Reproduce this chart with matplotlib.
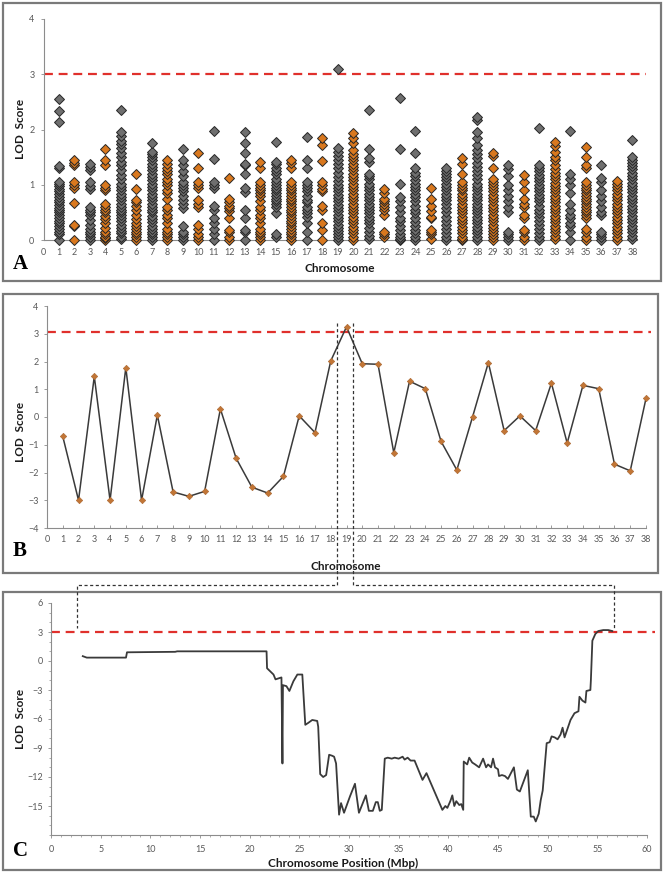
import matplotlib
matplotlib.use("Agg")
import matplotlib.pyplot as plt
import matplotlib.ticker as mt
from matplotlib.patches import Rectangle
from matplotlib.lines import Line2D

# ---------------- data ----------------
# Panel A: LOD score of each marker per chromosome
chromosomes = list(range(1, 39))
orange_chroms = [2, 4, 6, 8, 10, 12, 14, 16, 18, 20, 22, 25, 27, 29, 31, 33, 35, 37]
a_lod = [
    [2.55, 2.33, 2.14, 1.34, 1.30, 1.05, 1.01, 0.97, 0.93, 0.88, 0.83, 0.78, 0.73, 0.68, 0.63, 0.58, 0.54, 0.50, 0.45, 0.40, 0.35, 0.30, 0.25, 0.20, 0.15, 0.10, 0.0],
    [1.45, 1.40, 1.35, 1.05, 1.00, 0.95, 0.67, 0.28, 0.25, 0.0],
    [1.38, 1.33, 1.27, 1.05, 0.98, 0.93, 0.60, 0.55, 0.50, 0.45, 0.36, 0.28, 0.20, 0.15, 0.10, 0.05, 0.0],
    [1.64, 1.45, 1.35, 1.00, 0.95, 0.90, 0.65, 0.60, 0.55, 0.50, 0.44, 0.38, 0.30, 0.22, 0.15, 0.10, 0.06, 0.03, 0.0],
    [2.36, 1.96, 1.88, 1.80, 1.74, 1.66, 1.58, 1.50, 1.42, 1.35, 1.27, 1.18, 1.10, 1.02, 0.96, 0.90, 0.84, 0.78, 0.72, 0.66, 0.60, 0.55, 0.50, 0.45, 0.40, 0.34, 0.28, 0.22, 0.17, 0.12, 0.06, 0.02],
    [1.20, 0.92, 0.72, 0.68, 0.62, 0.55, 0.45, 0.38, 0.30, 0.25, 0.20, 0.15, 0.10, 0.05, 0.0],
    [1.75, 1.60, 1.55, 1.50, 1.44, 1.38, 1.32, 1.26, 1.20, 1.14, 1.08, 1.02, 0.96, 0.90, 0.84, 0.78, 0.72, 0.66, 0.60, 0.55, 0.50, 0.44, 0.38, 0.32, 0.26, 0.20, 0.15, 0.10, 0.05, 0.0],
    [1.45, 1.38, 1.30, 1.25, 1.20, 1.10, 1.05, 1.00, 0.90, 0.85, 0.75, 0.60, 0.55, 0.45, 0.40, 0.30, 0.20, 0.15, 0.10, 0.05, 0.0],
    [1.65, 1.45, 1.35, 1.25, 1.15, 1.05, 1.00, 0.95, 0.88, 0.80, 0.72, 0.65, 0.58, 0.25, 0.15, 0.10, 0.05, 0.0],
    [1.58, 1.30, 1.05, 1.00, 0.95, 0.72, 0.65, 0.60, 0.28, 0.20, 0.10, 0.05, 0.0],
    [1.98, 1.46, 1.05, 1.00, 0.95, 0.62, 0.55, 0.40, 0.30, 0.20, 0.10, 0.0],
    [1.12, 0.75, 0.68, 0.62, 0.58, 0.52, 0.40, 0.18, 0.15, 0.05, 0.0],
    [1.96, 1.76, 1.58, 1.38, 1.35, 1.20, 0.95, 0.87, 0.55, 0.40, 0.18, 0.15, 0.0],
    [1.42, 1.30, 1.05, 1.00, 0.95, 0.90, 0.85, 0.80, 0.70, 0.60, 0.55, 0.45, 0.40, 0.30, 0.20, 0.15, 0.10, 0.05, 0.0],
    [1.77, 1.42, 1.38, 1.30, 1.25, 1.20, 1.10, 1.05, 1.00, 0.95, 0.90, 0.85, 0.80, 0.75, 0.70, 0.65, 0.60, 0.48, 0.10, 0.05],
    [1.45, 1.40, 1.30, 1.05, 1.00, 0.95, 0.90, 0.85, 0.80, 0.75, 0.70, 0.65, 0.60, 0.55, 0.50, 0.45, 0.40, 0.35, 0.30, 0.25, 0.20, 0.15, 0.10, 0.05, 0.0],
    [1.87, 1.45, 1.30, 1.05, 1.00, 0.95, 0.88, 0.80, 0.72, 0.68, 0.60, 0.55, 0.48, 0.42, 0.30, 0.15, 0.0],
    [1.84, 1.72, 1.43, 1.05, 1.00, 0.93, 0.88, 0.62, 0.55, 0.30, 0.18, 0.0],
    [3.09, 1.66, 1.60, 1.52, 1.45, 1.38, 1.30, 1.22, 1.14, 1.06, 1.00, 0.94, 0.88, 0.82, 0.76, 0.70, 0.64, 0.58, 0.52, 0.46, 0.40, 0.34, 0.28, 0.22, 0.16, 0.10, 0.05, 0.0],
    [1.93, 1.85, 1.75, 1.62, 1.56, 1.50, 1.44, 1.38, 1.32, 1.26, 1.20, 1.14, 1.08, 1.02, 0.96, 0.90, 0.84, 0.78, 0.72, 0.66, 0.60, 0.54, 0.48, 0.42, 0.36, 0.30, 0.24, 0.18, 0.12, 0.06, 0.0],
    [2.36, 1.65, 1.48, 1.42, 1.20, 1.15, 1.10, 1.02, 0.96, 0.90, 0.84, 0.78, 0.72, 0.66, 0.60, 0.54, 0.48, 0.42, 0.36, 0.30, 0.22, 0.15, 0.08, 0.02],
    [0.93, 0.85, 0.75, 0.70, 0.65, 0.60, 0.55, 0.45, 0.15, 0.10, 0.05],
    [2.57, 1.65, 1.02, 0.78, 0.70, 0.60, 0.50, 0.40, 0.35, 0.25, 0.18, 0.10, 0.05, 0.02, 0.0],
    [1.98, 1.58, 1.30, 1.22, 1.15, 1.08, 1.02, 0.96, 0.90, 0.84, 0.78, 0.70, 0.62, 0.55, 0.48, 0.40, 0.32, 0.25, 0.18, 0.12, 0.06, 0.0],
    [0.95, 0.75, 0.62, 0.52, 0.42, 0.40, 0.18, 0.15, 0.10, 0.02],
    [1.30, 1.25, 1.20, 1.14, 1.08, 1.02, 0.96, 0.90, 0.84, 0.78, 0.72, 0.66, 0.58, 0.50, 0.42, 0.35, 0.28, 0.20, 0.12, 0.05, 0.0],
    [1.48, 1.38, 1.20, 1.05, 1.00, 0.95, 0.90, 0.84, 0.78, 0.72, 0.66, 0.60, 0.54, 0.48, 0.42, 0.36, 0.30, 0.24, 0.18, 0.12, 0.06, 0.02, 0.0],
    [2.22, 2.18, 1.95, 1.85, 1.72, 1.62, 1.55, 1.48, 1.40, 1.32, 1.25, 1.18, 1.10, 1.02, 0.96, 0.90, 0.84, 0.78, 0.72, 0.66, 0.60, 0.54, 0.48, 0.42, 0.36, 0.30, 0.24, 0.18, 0.12, 0.06, 0.0],
    [1.57, 1.52, 1.30, 1.10, 1.05, 1.00, 0.94, 0.88, 0.82, 0.76, 0.70, 0.64, 0.58, 0.52, 0.46, 0.40, 0.34, 0.28, 0.22, 0.16, 0.10, 0.05, 0.0],
    [1.35, 1.28, 1.15, 1.00, 0.90, 0.80, 0.70, 0.60, 0.50, 0.15, 0.10, 0.05, 0.0],
    [1.17, 1.05, 0.90, 0.75, 0.65, 0.60, 0.45, 0.40, 0.18, 0.15, 0.05, 0.0],
    [2.02, 1.35, 1.30, 1.24, 1.18, 1.12, 1.06, 1.00, 0.94, 0.88, 0.82, 0.76, 0.70, 0.62, 0.55, 0.48, 0.42, 0.35, 0.28, 0.20, 0.12, 0.05, 0.0],
    [1.77, 1.70, 1.60, 1.50, 1.45, 1.35, 1.28, 1.22, 1.16, 1.10, 1.04, 0.98, 0.92, 0.86, 0.80, 0.74, 0.68, 0.62, 0.56, 0.50, 0.44, 0.38, 0.32, 0.26, 0.20, 0.14, 0.08, 0.02],
    [1.98, 1.20, 1.10, 1.00, 0.85, 0.65, 0.55, 0.45, 0.40, 0.30, 0.25, 0.15, 0.0],
    [1.68, 1.50, 1.35, 1.30, 1.05, 1.00, 0.95, 0.90, 0.85, 0.80, 0.75, 0.70, 0.65, 0.60, 0.55, 0.50, 0.45, 0.40, 0.20, 0.15, 0.05, 0.0],
    [1.36, 1.12, 1.05, 0.90, 0.80, 0.70, 0.60, 0.50, 0.45, 0.15, 0.10, 0.05, 0.0],
    [1.07, 1.02, 0.96, 0.90, 0.84, 0.78, 0.72, 0.66, 0.60, 0.54, 0.48, 0.42, 0.36, 0.30, 0.24, 0.18, 0.12, 0.06, 0.0],
    [1.81, 1.50, 1.45, 1.40, 1.34, 1.28, 1.22, 1.16, 1.10, 1.04, 0.98, 0.92, 0.86, 0.80, 0.74, 0.68, 0.62, 0.56, 0.50, 0.44, 0.38, 0.32, 0.26, 0.20, 0.14, 0.08, 0.02],
]
a_threshold = 3.0

# Panel B: one LOD score per chromosome
b_lod = [-0.70, -3.00, 1.46, -3.00, 1.78, -3.00, 0.07, -2.70, -2.86, -2.68,
         0.29, -1.49, -2.53, -2.74, -2.14, 0.04, -0.56, 2.02, 3.25, 1.92,
         1.90, -1.29, 1.29, 1.02, -0.88, -1.91, 0.01, 1.96, -0.49, 0.04,
         -0.49, 1.22, -0.94, 1.14, 1.02, -1.70, -1.94, 0.67]
b_threshold = 3.08
b_zoom_window = [18.4, 19.4]

# Panel C: fine mapping along chromosome 19
c_pos = [3.2, 3.6, 7.55, 7.65, 12.5, 12.7, 21.7, 21.75, 22.1, 22.4,
         22.6, 22.9, 23.2, 23.3, 23.35, 23.7, 24.0, 24.4, 24.8, 25.3,
         25.6, 25.9, 26.3, 26.8, 26.9, 27.1, 27.4, 27.7, 28.0, 28.3,
         28.5, 28.7, 29.0, 29.2, 29.5, 30.1, 30.6, 31.0, 31.7, 32.0,
         32.4, 32.7, 32.9, 33.1, 33.3, 33.6, 33.9, 34.3, 34.6, 35.0,
         35.4, 35.6, 35.9, 36.2, 36.6, 37.4, 37.8, 39.4, 39.7, 39.9,
         40.2, 40.4, 40.6, 40.8, 41.1, 41.3, 41.5, 41.55, 41.9, 42.1,
         42.4, 42.7, 43.1, 43.5, 43.8, 44.0, 44.3, 44.5, 44.7, 45.0,
         45.1, 45.4, 45.7, 46.0, 46.6, 46.9, 47.2, 48.0, 48.3, 48.6,
         48.8, 49.1, 49.3, 49.5, 49.9, 50.2, 50.4, 50.7, 51.0, 51.3,
         51.5, 51.7, 52.3, 52.7, 53.1, 53.2, 53.5, 53.8, 53.9, 54.3,
         54.35, 54.5, 54.8, 55.1, 55.6, 56.1, 56.5]
c_lod = [0.5, 0.35, 0.35, 0.9, 0.95, 1.0, 1.0, -0.75, -1.1, -1.4,
         -1.9, -1.8, -1.7, -10.6, -2.5, -2.6, -3.1, -2.1, -1.4, -1.4,
         -6.6, -6.4, -6.1, -6.2, -6.8, -11.7, -12.0, -11.8, -9.7, -9.8,
         -9.9, -10.6, -15.9, -14.7, -15.7, -14.0, -12.7, -15.7, -13.9, -15.5,
         -15.5, -14.6, -14.6, -15.5, -15.4, -10.1, -10.0, -10.1, -10.0, -10.1,
         -9.9, -10.2, -10.0, -10.3, -10.3, -12.3, -11.6, -15.4, -15.0, -15.2,
         -14.5, -13.9, -15.0, -14.5, -14.9, -14.8, -15.4, -10.4, -10.7, -10.0,
         -10.5, -10.7, -11.0, -10.1, -11.0, -10.7, -11.0, -10.1, -11.0, -11.2,
         -11.9, -11.8, -11.9, -12.2, -11.0, -13.3, -13.5, -11.3, -16.1, -16.1,
         -16.6, -15.8, -14.4, -13.4, -8.5, -8.4, -7.8, -7.9, -8.1, -7.6,
         -6.9, -7.9, -6.1, -5.4, -5.2, -3.7, -4.1, -4.3, -3.1, -3.0,
         -2.0, 2.1, 2.8, 3.1, 3.2, 3.2, 3.1]
c_threshold = 3.0
c_region = [2.6, 56.7]

# ---------------- styling ----------------
W, H = 664, 873
plt.rcParams["font.family"] = ["Lato", "DejaVu Sans"]
TICK_C = "#595959"
SPINE_C = "#8c8c8c"
GRAY = "#6f6f6f"
ORANGE = "#d9781e"
EDGE = "#262626"
RED = "#e0302c"
LINE_C = "#3a3a3a"

fig = plt.figure(figsize=(W / 100, H / 100), dpi=100)
fig.patch.set_facecolor("white")


def axes_px(l, t, r, b):
    return fig.add_axes([l / W, 1 - b / H, (r - l) / W, (b - t) / H])


def frame_px(l, t, r, b):
    fig.add_artist(Rectangle((l / W, 1 - b / H), (r - l) / W, (b - t) / H,
                             transform=fig.transFigure, fill=False,
                             edgecolor="#7a7a7a", lw=1.6))


def style(ax):
    for s in ("top", "right"):
        ax.spines[s].set_visible(False)
    for s in ("left", "bottom"):
        ax.spines[s].set_color(SPINE_C)
        ax.spines[s].set_linewidth(0.8)
    ax.tick_params(colors=SPINE_C, labelcolor=TICK_C, labelsize=6.5,
                   width=0.6, length=2.5)


# ---------------- panel A ----------------
frame_px(3, 3, 661, 281)
axA = axes_px(43.5, 19, 637, 240)
style(axA)
axA.set_xlim(0, 38.3)
axA.set_ylim(0, 4)
axA.set_xticks(range(0, 39))
axA.set_yticks(range(0, 5))
axA.tick_params(axis="x", length=0, pad=6)
axA.tick_params(axis="y", pad=4)
for c, vals in zip(chromosomes, a_lod):
    col = ORANGE if c in orange_chroms else GRAY
    axA.plot([c] * len(vals), vals[::-1], ls="none", marker="D", ms=5.6,
             mfc=col, mec=EDGE, mew=0.7, clip_on=False, zorder=3)
axA.plot([0, 38.9], [a_threshold, a_threshold], color=RED, lw=1.6,
         ls=(0, (4, 2.6)), clip_on=False, zorder=2)
fig.text(20 / W, 1 - 129 / H, "LOD  Score", rotation=90, fontsize=8.5,
         fontweight="bold", ha="center", va="center", color="#1a1a1a")
fig.text(340 / W, 1 - 268 / H, "Chromosome", fontsize=8.5, fontweight="bold",
         ha="center", va="center", color="#1a1a1a")
fig.text(20 / W, 1 - 264 / H, "A", fontsize=15, fontweight="bold",
         family="Liberation Serif", ha="center", va="center")

# ---------------- panel B ----------------
frame_px(3, 294, 658, 573)
axB = axes_px(47, 306, 646, 528)
style(axB)
axB.set_xlim(0, 38)
axB.set_ylim(-4, 4)
axB.set_xticks(range(0, 39))
axB.set_yticks(range(-4, 5))
axB.tick_params(axis="x", direction="in", pad=5)
axB.plot(chromosomes, b_lod, color=LINE_C, lw=1.1, marker="D", ms=3.3,
         mfc="#c27636", mec="#a8632c", mew=0.4, clip_on=False, zorder=3)
axB.plot([0, 38.3], [b_threshold, b_threshold], color=RED, lw=1.6,
         ls=(0, (4, 2.6)), clip_on=False, zorder=2)
fig.text(20 / W, 1 - 432 / H, "LOD  Score", rotation=90, fontsize=8.5,
         fontweight="bold", ha="center", va="center", color="#1a1a1a")
fig.text(346 / W, 1 - 566 / H, "Chromosome", fontsize=8.5, fontweight="bold",
         ha="center", va="center", color="#1a1a1a")
fig.text(20 / W, 1 - 551 / H, "B", fontsize=15, fontweight="bold",
         family="Liberation Serif", ha="center", va="center")

# ---------------- panel C ----------------
frame_px(3, 592, 661, 870)
axC = axes_px(51, 603, 647, 835)
style(axC)
axC.set_xlim(0, 60)
axC.set_ylim(-18, 6)
axC.set_xticks(range(0, 61, 5))
axC.set_yticks(range(-15, 7, 3))
axC.xaxis.set_minor_locator(mt.MultipleLocator(1))
axC.yaxis.set_minor_locator(mt.MultipleLocator(1))
axC.tick_params(which="minor", length=1.5, width=0.5, colors=SPINE_C)
axC.tick_params(axis="x", pad=5)
axC.plot(c_pos, c_lod, color=LINE_C, lw=1.3, zorder=3)
axC.plot([0, 60.8], [c_threshold, c_threshold], color=RED, lw=1.6,
         ls=(0, (4, 2.6)), clip_on=False, zorder=2)
fig.text(20 / W, 1 - 719 / H, "LOD  Score", rotation=90, fontsize=8.5,
         fontweight="bold", ha="center", va="center", color="#1a1a1a")
fig.text(343 / W, 1 - 863 / H, "Chromosome Position (Mbp)", fontsize=8.5,
         fontweight="bold", ha="center", va="center", color="#1a1a1a")
fig.text(20 / W, 1 - 851 / H, "C", fontsize=15, fontweight="bold",
         family="Liberation Serif", ha="center", va="center")

# ---------------- connector (zoom window B -> C) ----------------
inv = fig.transFigure.inverted()


def to_fig(ax, x, y):
    return inv.transform(ax.transData.transform((x, y)))


mid_y = 1 - 585 / H
for bx, cx in zip(b_zoom_window, c_region):
    top = to_fig(axB, bx, 3.4)
    bot = to_fig(axC, cx, 3.4)
    xs = [top[0], top[0], bot[0], bot[0]]
    ys = [top[1], mid_y, mid_y, bot[1]]
    fig.add_artist(Line2D(xs, ys, transform=fig.transFigure, color="#333333",
                          lw=0.9, ls=(0, (2.5, 2)), zorder=5))

fig.savefig("out.png", dpi=100)
